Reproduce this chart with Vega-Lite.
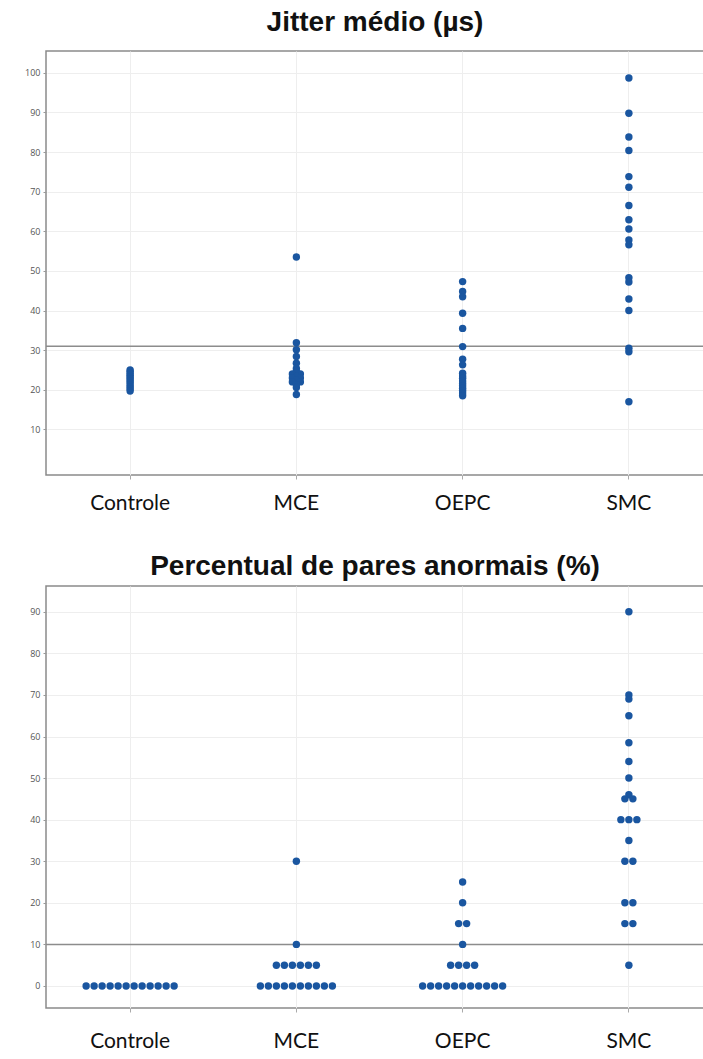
{
  "$schema": "https://vega.github.io/schema/vega-lite/v6.json",
  "background": "white",
  "padding": {"left": 0, "right": 0, "top": 8, "bottom": 0},
  "spacing": 38,
  "config": {
    "view": {"stroke": "#8a8a8a", "strokeWidth": 1.5},
    "title": {"font": "Liberation Sans", "fontSize": 28, "fontWeight": "bold", "color": "#111111", "anchor": "middle"},
    "axisX": {"title": null, "labelFont": "Lato", "labelFontSize": 21, "labelColor": "#111111", "labelAngle": 0, "tickSize": 4, "tickColor": "#aaaaaa", "domain": false, "grid": true, "gridColor": "#eeeeee", "bandPosition": 0.5},
    "axisY": {"title": null, "labelFont": "Open Sans", "labelFontSize": 9, "labelColor": "#555555", "tickSize": 3, "tickColor": "#999999", "domain": false, "grid": true, "gridColor": "#eeeeee", "labelPadding": 3, "minExtent": 45, "maxExtent": 45}
  },
  "datasets": {
    "jitter": [
      {"grupo": "Controle", "valor": 25.0}, {"grupo": "Controle", "valor": 24.6}, {"grupo": "Controle", "valor": 24.1}, {"grupo": "Controle", "valor": 23.7},
      {"grupo": "Controle", "valor": 23.2}, {"grupo": "Controle", "valor": 22.8}, {"grupo": "Controle", "valor": 22.3}, {"grupo": "Controle", "valor": 21.8},
      {"grupo": "Controle", "valor": 21.2}, {"grupo": "Controle", "valor": 20.7}, {"grupo": "Controle", "valor": 20.2}, {"grupo": "Controle", "valor": 19.7},
      {"grupo": "MCE", "valor": 53.5}, {"grupo": "MCE", "valor": 31.9}, {"grupo": "MCE", "valor": 30.1}, {"grupo": "MCE", "valor": 28.4},
      {"grupo": "MCE", "valor": 26.7}, {"grupo": "MCE", "valor": 25.4}, {"grupo": "MCE", "valor": 24.6}, {"grupo": "MCE", "valor": 24.0},
      {"grupo": "MCE", "valor": 24.0}, {"grupo": "MCE", "valor": 23.4}, {"grupo": "MCE", "valor": 23.0}, {"grupo": "MCE", "valor": 23.0},
      {"grupo": "MCE", "valor": 22.5}, {"grupo": "MCE", "valor": 22.0}, {"grupo": "MCE", "valor": 22.0}, {"grupo": "MCE", "valor": 21.3},
      {"grupo": "MCE", "valor": 20.6}, {"grupo": "MCE", "valor": 18.8},
      {"grupo": "OEPC", "valor": 47.3}, {"grupo": "OEPC", "valor": 44.8}, {"grupo": "OEPC", "valor": 43.5}, {"grupo": "OEPC", "valor": 39.3},
      {"grupo": "OEPC", "valor": 35.5}, {"grupo": "OEPC", "valor": 30.9}, {"grupo": "OEPC", "valor": 27.7}, {"grupo": "OEPC", "valor": 26.3},
      {"grupo": "OEPC", "valor": 24.2}, {"grupo": "OEPC", "valor": 23.5}, {"grupo": "OEPC", "valor": 22.9}, {"grupo": "OEPC", "valor": 22.2},
      {"grupo": "OEPC", "valor": 21.6}, {"grupo": "OEPC", "valor": 21.0}, {"grupo": "OEPC", "valor": 20.4}, {"grupo": "OEPC", "valor": 19.8},
      {"grupo": "OEPC", "valor": 19.2}, {"grupo": "OEPC", "valor": 18.5},
      {"grupo": "SMC", "valor": 98.7}, {"grupo": "SMC", "valor": 89.8}, {"grupo": "SMC", "valor": 83.8}, {"grupo": "SMC", "valor": 80.4},
      {"grupo": "SMC", "valor": 73.8}, {"grupo": "SMC", "valor": 71.1}, {"grupo": "SMC", "valor": 66.5}, {"grupo": "SMC", "valor": 62.9},
      {"grupo": "SMC", "valor": 60.6}, {"grupo": "SMC", "valor": 57.8}, {"grupo": "SMC", "valor": 56.6}, {"grupo": "SMC", "valor": 48.3},
      {"grupo": "SMC", "valor": 47.2}, {"grupo": "SMC", "valor": 42.9}, {"grupo": "SMC", "valor": 40.0}, {"grupo": "SMC", "valor": 30.5},
      {"grupo": "SMC", "valor": 29.6}, {"grupo": "SMC", "valor": 17.0}
    ],
    "pares": [
      {"grupo": "Controle", "valor": 0}, {"grupo": "Controle", "valor": 0}, {"grupo": "Controle", "valor": 0}, {"grupo": "Controle", "valor": 0},
      {"grupo": "Controle", "valor": 0}, {"grupo": "Controle", "valor": 0}, {"grupo": "Controle", "valor": 0}, {"grupo": "Controle", "valor": 0},
      {"grupo": "Controle", "valor": 0}, {"grupo": "Controle", "valor": 0}, {"grupo": "Controle", "valor": 0}, {"grupo": "Controle", "valor": 0},
      {"grupo": "MCE", "valor": 30}, {"grupo": "MCE", "valor": 10},
      {"grupo": "MCE", "valor": 5}, {"grupo": "MCE", "valor": 5}, {"grupo": "MCE", "valor": 5}, {"grupo": "MCE", "valor": 5}, {"grupo": "MCE", "valor": 5}, {"grupo": "MCE", "valor": 5},
      {"grupo": "MCE", "valor": 0}, {"grupo": "MCE", "valor": 0}, {"grupo": "MCE", "valor": 0}, {"grupo": "MCE", "valor": 0}, {"grupo": "MCE", "valor": 0},
      {"grupo": "MCE", "valor": 0}, {"grupo": "MCE", "valor": 0}, {"grupo": "MCE", "valor": 0}, {"grupo": "MCE", "valor": 0}, {"grupo": "MCE", "valor": 0},
      {"grupo": "OEPC", "valor": 25}, {"grupo": "OEPC", "valor": 20}, {"grupo": "OEPC", "valor": 15}, {"grupo": "OEPC", "valor": 15}, {"grupo": "OEPC", "valor": 10},
      {"grupo": "OEPC", "valor": 5}, {"grupo": "OEPC", "valor": 5}, {"grupo": "OEPC", "valor": 5}, {"grupo": "OEPC", "valor": 5},
      {"grupo": "OEPC", "valor": 0}, {"grupo": "OEPC", "valor": 0}, {"grupo": "OEPC", "valor": 0}, {"grupo": "OEPC", "valor": 0}, {"grupo": "OEPC", "valor": 0},
      {"grupo": "OEPC", "valor": 0}, {"grupo": "OEPC", "valor": 0}, {"grupo": "OEPC", "valor": 0}, {"grupo": "OEPC", "valor": 0}, {"grupo": "OEPC", "valor": 0},
      {"grupo": "OEPC", "valor": 0},
      {"grupo": "SMC", "valor": 90}, {"grupo": "SMC", "valor": 70}, {"grupo": "SMC", "valor": 69}, {"grupo": "SMC", "valor": 65},
      {"grupo": "SMC", "valor": 58.5}, {"grupo": "SMC", "valor": 54}, {"grupo": "SMC", "valor": 50}, {"grupo": "SMC", "valor": 46},
      {"grupo": "SMC", "valor": 45}, {"grupo": "SMC", "valor": 45}, {"grupo": "SMC", "valor": 40}, {"grupo": "SMC", "valor": 40},
      {"grupo": "SMC", "valor": 40}, {"grupo": "SMC", "valor": 35}, {"grupo": "SMC", "valor": 30}, {"grupo": "SMC", "valor": 30},
      {"grupo": "SMC", "valor": 20}, {"grupo": "SMC", "valor": 20}, {"grupo": "SMC", "valor": 15}, {"grupo": "SMC", "valor": 15},
      {"grupo": "SMC", "valor": 5}
    ]
  },
  "vconcat": [
    {
      "width": 658,
      "height": 424,
      "title": {"text": "Jitter médio (µs)", "offset": 14},
      "layer": [
        {
          "data": {"values": [{}]},
          "mark": {"type": "rule", "color": "#8c8c8c", "strokeWidth": 1.5},
          "encoding": {"y": {"datum": 31, "type": "quantitative"}}
        },
        {
          "data": {"name": "jitter"},
          "transform": [
            {"window": [{"op": "row_number", "as": "idx"}], "groupby": ["grupo", "valor"]},
            {"joinaggregate": [{"op": "count", "as": "n"}], "groupby": ["grupo", "valor"]},
            {"calculate": "datum.idx - (datum.n + 1) / 2", "as": "off"}
          ],
          "mark": {"type": "circle", "size": 55, "color": "#1a56a0", "opacity": 1},
          "encoding": {
            "x": {"field": "grupo", "type": "nominal", "scale": {"type": "band", "domain": ["Controle", "MCE", "OEPC", "SMC"], "range": [1, 666], "paddingInner": 0, "paddingOuter": 0}, "axis": {"labelPadding": 13}},
            "xOffset": {"field": "off", "type": "quantitative", "scale": {"domain": [-10, 10], "range": [3.125, 163.125]}},
            "y": {"field": "valor", "type": "quantitative", "scale": {"domain": [-1.5, 105.5], "nice": false, "zero": false}, "axis": {"values": [10, 20, 30, 40, 50, 60, 70, 80, 90, 100]}}
          }
        }
      ]
    },
    {
      "width": 658,
      "height": 422,
      "title": {"text": "Percentual de pares anormais (%)", "offset": 5},
      "layer": [
        {
          "data": {"values": [{}]},
          "mark": {"type": "rule", "color": "#8c8c8c", "strokeWidth": 1.5},
          "encoding": {"y": {"datum": 10, "type": "quantitative"}}
        },
        {
          "data": {"name": "pares"},
          "transform": [
            {"window": [{"op": "row_number", "as": "idx"}], "groupby": ["grupo", "valor"]},
            {"joinaggregate": [{"op": "count", "as": "n"}], "groupby": ["grupo", "valor"]},
            {"calculate": "datum.idx - (datum.n + 1) / 2", "as": "off"}
          ],
          "mark": {"type": "circle", "size": 55, "color": "#1a56a0", "opacity": 1},
          "encoding": {
            "x": {"field": "grupo", "type": "nominal", "scale": {"type": "band", "domain": ["Controle", "MCE", "OEPC", "SMC"], "range": [1, 666], "paddingInner": 0, "paddingOuter": 0}, "axis": {"labelPadding": 18}},
            "xOffset": {"field": "off", "type": "quantitative", "scale": {"domain": [-10, 10], "range": [3.125, 163.125]}},
            "y": {"field": "valor", "type": "quantitative", "scale": {"domain": [-5.3, 96.2], "nice": false, "zero": false}, "axis": {"values": [0, 10, 20, 30, 40, 50, 60, 70, 80, 90]}}
          }
        }
      ]
    }
  ]
}
